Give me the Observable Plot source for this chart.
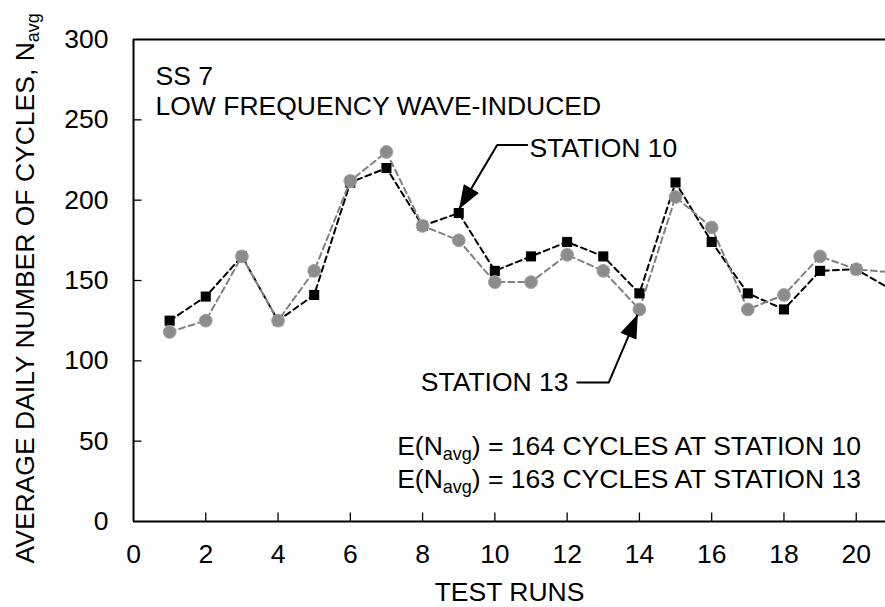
<!DOCTYPE html>
<html>
<head>
<meta charset="utf-8">
<script src="https://cdn.jsdelivr.net/npm/d3@7"></script>
<script src="https://cdn.jsdelivr.net/npm/@observablehq/plot@0.6"></script>
<style>
  html, body { margin: 0; padding: 0; background: #ffffff; }
  #chart svg { display: block; }
</style>
</head>
<body>
<div id="chart"></div>
<script>
// ---- Data ----
const runs      = [1, 2, 3, 4, 5, 6, 7, 8, 9, 10, 11, 12, 13, 14, 15, 16, 17, 18, 19, 20, 21];
const station10 = [125, 140, 165, 125, 141, 211, 220, 184, 192, 156, 165, 174, 165, 142, 211, 174, 142, 132, 156, 157, 144];
const station13 = [118, 125, 165, 125, 156, 212, 230, 184, 175, 149, 149, 166, 156, 132, 202, 183, 132, 141, 165, 157, 155];
const xTicks = [0, 2, 4, 6, 8, 10, 12, 14, 16, 18, 20];
const yTicks = [0, 50, 100, 150, 200, 250, 300];
const titleLines = ["SS 7", "LOW FREQUENCY WAVE-INDUCED"];
const seriesNames = ["STATION 10", "STATION 13"];
const meanNotes = ["E(N{avg}) = 164 CYCLES AT STATION 10", "E(N{avg}) = 163 CYCLES AT STATION 13"];
const xLabel = "TEST RUNS";
const yLabel = "AVERAGE DAILY NUMBER OF CYCLES, N{avg}";

// ---- Layout ----
const W = 885, H = 607;
const mL = 133, mR = 0, mT = 39, mB = 86;
const xMax = 20.81;
const kx = (W - mL - mR) / xMax;      // px per run
const ky = (H - mT - mB) / 300;       // px per cycle

const rows = runs.map((r, i) => ({run: r, s10: station10[i], s13: station13[i]}));

const tickShape = {draw(ctx, l) { ctx.moveTo(0, 0); ctx.lineTo(0, -l); }};
const headShape = {draw(ctx, l) { ctx.moveTo(0, -l); ctx.lineTo(8, 0); ctx.lineTo(-8, 0); ctx.closePath(); }};

function angle(from, to) {
  const dx = (to[0] - from[0]) * kx;
  const dy = -(to[1] - from[1]) * ky;
  return Math.atan2(dx, -dy) * 180 / Math.PI;
}

const leader10 = [[10.895, 234.4], [10.065, 234.4], [9.03, 195.2]];
const leader13 = [[12.28, 86.5], [13.15, 86.5], [13.94, 128.2]];

const plot = Plot.plot({
  width: W,
  height: H,
  marginLeft: mL,
  marginRight: mR,
  marginTop: mT,
  marginBottom: mB,
  style: {
    fontFamily: '"Liberation Sans", Arial, Helvetica, sans-serif',
    fontSize: "26.5px",
    background: "#ffffff",
    color: "#000000"
  },
  x: {domain: [0, xMax]},
  y: {domain: [0, 300]},
  marks: [
    // axes frame
    Plot.ruleY([0], {strokeWidth: 2}),
    Plot.ruleY([300], {strokeWidth: 2}),
    Plot.ruleX([0], {strokeWidth: 2}),
    // inward ticks
    Plot.vector(yTicks.slice(1, -1), {x: () => 0, y: d => d, length: 8, rotate: 90, anchor: "start", shape: tickShape, strokeWidth: 1.3, strokeLinecap: "butt"}),
    Plot.vector(xTicks.slice(1), {x: d => d, y: () => 0, length: 9, rotate: 0, anchor: "start", shape: tickShape, strokeWidth: 1.3, strokeLinecap: "butt"}),
    // tick labels
    Plot.axisY({ticks: yTicks, tickSize: 0, tickPadding: 25, label: null}),
    Plot.axisX({ticks: xTicks, tickSize: 0, tickPadding: 23, label: null}),
    // series
    Plot.line(rows, {x: "run", y: "s10", stroke: "#000000", strokeWidth: 2, strokeDasharray: "6,4", clip: true}),
    Plot.line(rows, {x: "run", y: "s13", stroke: "#808080", strokeWidth: 2, strokeDasharray: "6,4", clip: true}),
    Plot.dot(rows, {x: "run", y: "s10", symbol: "square", r: 5.7, fill: "#000000", clip: true}),
    Plot.dot(rows, {x: "run", y: "s13", symbol: "circle", r: 6.4, fill: "#8c8c8c", stroke: "#a3a3a3", strokeWidth: 1, clip: true}),
    // title
    Plot.text([titleLines.join("\n")], {frameAnchor: "top-left", dx: 22, dy: 24, lineAnchor: "top", lineHeight: 1.13, textAnchor: "start"}),
    // series annotations
    Plot.line(leader10, {x: d => d[0], y: d => d[1], stroke: "#000000", strokeWidth: 2}),
    Plot.vector([leader10[2]], {x: d => d[0], y: d => d[1], length: 22, rotate: angle(leader10[1], leader10[2]), anchor: "end", shape: headShape, fill: "#000000", stroke: "#000000", strokeWidth: 1}),
    Plot.text([seriesNames[0]], {x: () => 10.96, y: () => 226.7, textAnchor: "start", lineAnchor: "bottom"}),
    Plot.line(leader13, {x: d => d[0], y: d => d[1], stroke: "#000000", strokeWidth: 2}),
    Plot.vector([leader13[2]], {x: d => d[0], y: d => d[1], length: 22, rotate: angle(leader13[1], leader13[2]), anchor: "end", shape: headShape, fill: "#000000", stroke: "#000000", strokeWidth: 1}),
    Plot.text([seriesNames[1]], {x: () => 12.04, y: () => 81.1, textAnchor: "end", lineAnchor: "bottom"}),
    // mean notes
    Plot.text(meanNotes, {x: () => 20.13, y: (d, i) => (i === 0 ? 41.7 : 21.0), textAnchor: "end", lineAnchor: "bottom"}),
    // axis titles
    Plot.text([xLabel], {frameAnchor: "bottom", dy: 79, lineAnchor: "bottom"}),
    Plot.text([yLabel], {frameAnchor: "bottom-left", dx: -100, dy: 42, rotate: -90, textAnchor: "start", lineAnchor: "bottom"})
  ]
});

// subscripts: turn {xxx} into real subscript tspans
d3.select(plot).selectAll("text").each(function() {
  const t = this.textContent;
  if (!t.includes("{") || this.querySelector("tspan")) return;
  const parts = t.split(/\{([^}]*)\}/);
  this.textContent = "";
  parts.forEach((p, i) => {
    if (!p) return;
    const ts = d3.select(this).append("tspan").text(p);
    if (i % 2 === 1) ts.attr("font-size", "0.68em").attr("dy", 5);
    else if (i > 0) ts.attr("dy", -5);
  });
});

document.getElementById("chart").appendChild(plot);
</script>
</body>
</html>
